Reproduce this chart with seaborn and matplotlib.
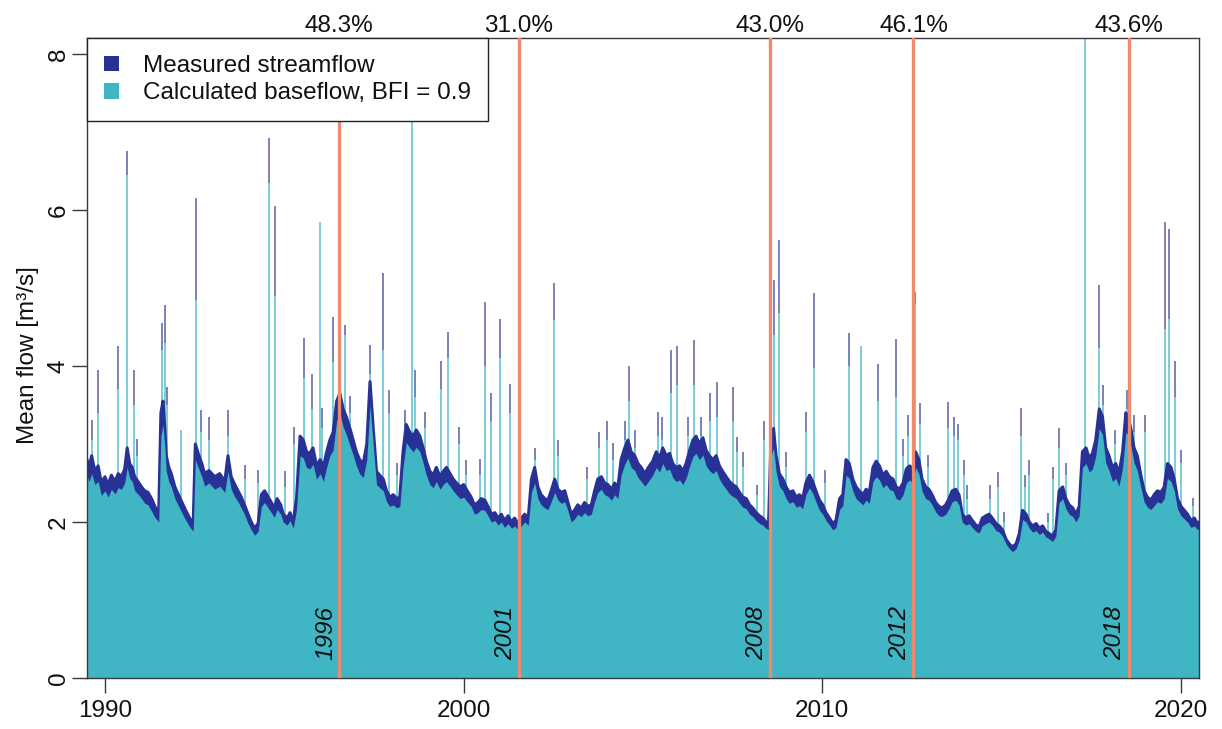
import numpy as np
import pandas as pd
import matplotlib
matplotlib.use("Agg")
import matplotlib.pyplot as plt
from matplotlib.patches import Patch
import seaborn as sns

# ---------------------------------------------------------------------------
# Daily-flow envelope (decimal year, measured streamflow, calculated baseflow)
# ---------------------------------------------------------------------------
flow_year = [
    1989.50, 1989.56, 1989.63, 1989.72, 1989.81, 1989.90, 1990.00, 1990.09,
    1990.18, 1990.28, 1990.37, 1990.46, 1990.55, 1990.62, 1990.69, 1990.76,
    1990.83, 1990.92, 1991.02, 1991.11, 1991.20, 1991.30, 1991.39, 1991.50,
    1991.56, 1991.62, 1991.67, 1991.71, 1991.78, 1991.85, 1991.95, 1992.08,
    1992.22, 1992.36, 1992.46, 1992.52, 1992.60, 1992.70, 1992.78, 1992.90,
    1993.06, 1993.20, 1993.34, 1993.43, 1993.52, 1993.62, 1993.71, 1993.80,
    1993.89, 1993.99, 1994.08, 1994.17, 1994.27, 1994.36, 1994.45, 1994.55,
    1994.64, 1994.72, 1994.80, 1994.90, 1994.97, 1995.08, 1995.16, 1995.25,
    1995.34, 1995.44, 1995.53, 1995.62, 1995.71, 1995.80, 1995.90, 1996.00,
    1996.09, 1996.18, 1996.27, 1996.36, 1996.46, 1996.55, 1996.64, 1996.73,
    1996.83, 1996.92, 1997.01, 1997.10, 1997.20, 1997.30, 1997.39, 1997.48,
    1997.57, 1997.66, 1997.76, 1997.85, 1997.94, 1998.04, 1998.13, 1998.22,
    1998.31, 1998.40, 1998.50, 1998.59, 1998.68, 1998.78, 1998.87, 1998.96,
    1999.06, 1999.15, 1999.24, 1999.34, 1999.43, 1999.52, 1999.62, 1999.71,
    1999.80, 1999.90, 2000.00, 2000.10, 2000.21, 2000.30, 2000.40, 2000.49,
    2000.59, 2000.68, 2000.77, 2000.87, 2000.96, 2001.05, 2001.14, 2001.24,
    2001.33, 2001.42, 2001.52, 2001.61, 2001.70, 2001.80, 2001.89, 2001.98,
    2002.07, 2002.16, 2002.26, 2002.35, 2002.44, 2002.54, 2002.63, 2002.72,
    2002.82, 2002.91, 2003.00, 2003.09, 2003.18, 2003.28, 2003.37, 2003.46,
    2003.56, 2003.65, 2003.74, 2003.84, 2003.93, 2004.02, 2004.12, 2004.21,
    2004.30, 2004.39, 2004.49, 2004.58, 2004.67, 2004.77, 2004.86, 2004.95,
    2005.05, 2005.15, 2005.27, 2005.37, 2005.46, 2005.55, 2005.65, 2005.74,
    2005.83, 2005.92, 2006.02, 2006.11, 2006.20, 2006.29, 2006.39, 2006.48,
    2006.57, 2006.67, 2006.76, 2006.85, 2006.95, 2007.04, 2007.13, 2007.22,
    2007.32, 2007.41, 2007.50, 2007.60, 2007.69, 2007.78, 2007.88, 2007.97,
    2008.06, 2008.15, 2008.25, 2008.34, 2008.43, 2008.50, 2008.57, 2008.64,
    2008.71, 2008.80, 2008.90, 2008.99, 2009.08, 2009.18, 2009.27, 2009.36,
    2009.45, 2009.54, 2009.64, 2009.73, 2009.82, 2009.92, 2010.01, 2010.10,
    2010.20, 2010.29, 2010.38, 2010.48, 2010.57, 2010.66, 2010.75, 2010.85,
    2010.94, 2011.03, 2011.13, 2011.22, 2011.31, 2011.41, 2011.50, 2011.59,
    2011.69, 2011.78, 2011.87, 2011.97, 2012.06, 2012.15, 2012.25, 2012.34,
    2012.43, 2012.52, 2012.60, 2012.69, 2012.78, 2012.88, 2012.97, 2013.06,
    2013.16, 2013.25, 2013.34, 2013.44, 2013.53, 2013.62, 2013.72, 2013.81,
    2013.90, 2014.00, 2014.09, 2014.18, 2014.28, 2014.37, 2014.46, 2014.56,
    2014.65, 2014.74, 2014.84, 2014.93, 2015.02, 2015.12, 2015.21, 2015.30,
    2015.40, 2015.49, 2015.58, 2015.68, 2015.77, 2015.86, 2015.96, 2016.05,
    2016.14, 2016.23, 2016.33, 2016.42, 2016.51, 2016.60, 2016.70, 2016.79,
    2016.88, 2016.98, 2017.07, 2017.16, 2017.25, 2017.35, 2017.44, 2017.53,
    2017.62, 2017.72, 2017.81, 2017.90, 2017.99, 2018.09, 2018.18, 2018.27,
    2018.37, 2018.46, 2018.52, 2018.60, 2018.69, 2018.78, 2018.88, 2018.97,
    2019.06, 2019.16, 2019.25, 2019.34, 2019.44, 2019.53, 2019.62, 2019.72,
    2019.81, 2019.90, 2020.00, 2020.09, 2020.18, 2020.28, 2020.37, 2020.46, 2020.50,
]

streamflow = [
    2.80, 2.70, 2.85, 2.65, 2.72, 2.50, 2.58, 2.48,
    2.60, 2.52, 2.62, 2.58, 2.68, 2.95, 2.75, 2.70,
    2.58, 2.52, 2.45, 2.40, 2.38, 2.30, 2.20, 2.12,
    3.40, 3.55, 3.20, 2.85, 2.70, 2.62, 2.45, 2.32,
    2.18, 2.05, 1.98, 3.00, 2.88, 2.75, 2.62, 2.66,
    2.58, 2.62, 2.52, 2.85, 2.58, 2.48, 2.40, 2.32,
    2.22, 2.10, 2.00, 1.92, 1.98, 2.35, 2.40, 2.32,
    2.25, 2.18, 2.30, 2.22, 2.10, 2.05, 2.12, 2.00,
    2.30, 3.10, 3.05, 2.90, 2.88, 2.95, 2.72, 2.80,
    2.70, 2.90, 3.05, 3.15, 3.55, 3.65, 3.45, 3.35,
    3.20, 3.05, 2.90, 2.80, 2.75, 3.00, 3.80, 3.20,
    2.65, 2.60, 2.55, 2.40, 2.32, 2.35, 2.30, 2.32,
    2.90, 3.25, 3.15, 3.10, 3.18, 3.10, 2.95, 2.78,
    2.65, 2.60, 2.70, 2.58, 2.65, 2.70, 2.62, 2.55,
    2.50, 2.45, 2.48, 2.40, 2.32, 2.22, 2.25, 2.30,
    2.28, 2.20, 2.10, 2.12, 2.05, 2.10, 2.02, 2.08,
    2.00, 2.05, 1.98, 2.05, 2.10, 2.05, 2.55, 2.70,
    2.45, 2.35, 2.30, 2.28, 2.40, 2.55, 2.42, 2.38,
    2.40, 2.25, 2.10, 2.15, 2.22, 2.18, 2.25, 2.20,
    2.22, 2.40, 2.55, 2.58, 2.50, 2.48, 2.42, 2.50,
    2.45, 2.80, 2.95, 3.05, 2.90, 2.85, 2.75, 2.70,
    2.62, 2.70, 2.78, 2.90, 2.82, 2.95, 2.85, 2.88,
    2.75, 2.70, 2.72, 2.65, 2.75, 2.90, 3.05, 3.10,
    3.00, 3.08, 2.92, 2.85, 2.80, 2.85, 2.72, 2.65,
    2.58, 2.52, 2.48, 2.45, 2.38, 2.32, 2.30, 2.22,
    2.18, 2.12, 2.08, 2.05, 2.00, 1.98, 3.10, 3.20,
    2.85, 2.62, 2.55, 2.45, 2.38, 2.40, 2.32, 2.35,
    2.30, 2.50, 2.60, 2.52, 2.40, 2.28, 2.22, 2.12,
    2.05, 1.98, 2.02, 2.30, 2.35, 2.80, 2.75, 2.55,
    2.45, 2.40, 2.35, 2.42, 2.38, 2.70, 2.78, 2.72,
    2.60, 2.65, 2.58, 2.55, 2.45, 2.42, 2.50, 2.68,
    2.72, 2.68, 2.90, 2.80, 2.55, 2.45, 2.42, 2.35,
    2.25, 2.20, 2.18, 2.22, 2.30, 2.40, 2.42, 2.35,
    2.10, 2.05, 2.08, 2.02, 1.96, 1.94, 2.05, 2.08,
    2.10, 2.05, 1.98, 1.95, 1.90, 1.78, 1.72, 1.68,
    1.72, 1.85, 2.15, 2.10, 2.00, 1.95, 1.98, 1.92,
    1.95, 1.88, 1.85, 1.82, 1.90, 2.40, 2.45, 2.30,
    2.22, 2.18, 2.10, 2.20, 2.90, 2.95, 2.82, 2.88,
    3.05, 3.45, 3.35, 2.95, 2.85, 2.70, 2.75, 2.62,
    2.90, 3.40, 3.35, 3.20, 2.95, 2.85, 2.60, 2.40,
    2.32, 2.28, 2.35, 2.40, 2.38, 2.45, 2.75, 2.70,
    2.55, 2.30, 2.20, 2.15, 2.10, 2.02, 2.05, 1.98, 2.00,
]

baseflow = [
    2.60, 2.52, 2.62, 2.48, 2.52, 2.34, 2.40, 2.32,
    2.42, 2.36, 2.44, 2.42, 2.50, 2.70, 2.56, 2.52,
    2.40, 2.36, 2.30, 2.24, 2.22, 2.14, 2.06, 2.00,
    3.10, 3.25, 2.95, 2.65, 2.52, 2.45, 2.30, 2.18,
    2.05, 1.94, 1.88, 2.80, 2.70, 2.58, 2.46, 2.50,
    2.42, 2.46, 2.38, 2.65, 2.42, 2.32, 2.26, 2.18,
    2.10, 1.98, 1.90, 1.83, 1.88, 2.20, 2.25, 2.18,
    2.12, 2.06, 2.16, 2.10, 2.00, 1.96, 2.02, 1.92,
    2.16, 2.85, 2.82, 2.70, 2.68, 2.74, 2.55, 2.62,
    2.52, 2.70, 2.85, 2.92, 3.30, 3.40, 3.22, 3.12,
    2.98, 2.86, 2.72, 2.62, 2.57, 2.80, 3.50, 2.98,
    2.48, 2.44, 2.40, 2.26, 2.20, 2.22, 2.18, 2.20,
    2.70, 3.02, 2.95, 2.90, 2.96, 2.90, 2.76, 2.60,
    2.48, 2.44, 2.52, 2.42, 2.48, 2.52, 2.46, 2.40,
    2.35, 2.30, 2.32, 2.26, 2.20, 2.10, 2.12, 2.16,
    2.15, 2.08, 2.00, 2.02, 1.96, 2.00, 1.93, 1.98,
    1.92, 1.95, 1.90, 1.95, 2.00, 1.96, 2.38, 2.50,
    2.30, 2.22, 2.18, 2.16, 2.26, 2.38, 2.28, 2.24,
    2.26, 2.14, 2.00, 2.04, 2.10, 2.07, 2.12, 2.08,
    2.10, 2.26, 2.38, 2.42, 2.35, 2.33, 2.28, 2.35,
    2.30, 2.60, 2.74, 2.82, 2.70, 2.66, 2.57, 2.52,
    2.46, 2.52, 2.60, 2.70, 2.64, 2.75, 2.66, 2.68,
    2.57, 2.52, 2.54, 2.48, 2.56, 2.70, 2.84, 2.88,
    2.80, 2.86, 2.72, 2.66, 2.62, 2.66, 2.55, 2.48,
    2.42, 2.36, 2.33, 2.30, 2.24, 2.19, 2.17, 2.10,
    2.07, 2.02, 1.98, 1.96, 1.92, 1.90, 2.85, 2.95,
    2.65, 2.46, 2.40, 2.30, 2.24, 2.26, 2.19, 2.21,
    2.17, 2.35, 2.44, 2.37, 2.26, 2.15, 2.10, 2.02,
    1.96, 1.90, 1.93, 2.16, 2.21, 2.60, 2.56, 2.40,
    2.30, 2.26, 2.22, 2.28, 2.24, 2.52, 2.58, 2.54,
    2.44, 2.48, 2.42, 2.40, 2.30, 2.28, 2.35, 2.50,
    2.54, 2.50, 2.70, 2.62, 2.40, 2.30, 2.28, 2.22,
    2.13, 2.08, 2.07, 2.10, 2.17, 2.26, 2.28, 2.22,
    2.00, 1.96, 1.98, 1.93, 1.88, 1.86, 1.95, 1.98,
    2.00, 1.96, 1.89, 1.87, 1.82, 1.72, 1.66, 1.62,
    1.66, 1.77, 2.03, 2.00, 1.92, 1.87, 1.89, 1.84,
    1.87, 1.81, 1.78, 1.75, 1.82, 2.25, 2.30, 2.17,
    2.10, 2.07, 2.00, 2.08, 2.70, 2.75, 2.64, 2.68,
    2.84, 3.20, 3.12, 2.76, 2.66, 2.52, 2.56, 2.46,
    2.70, 3.15, 3.12, 2.98, 2.76, 2.66, 2.44, 2.26,
    2.19, 2.16, 2.21, 2.26, 2.24, 2.30, 2.56, 2.52,
    2.40, 2.17, 2.08, 2.04, 2.00, 1.93, 1.95, 1.90, 1.92,
]

# Single-day flood peaks (decimal year, streamflow peak, baseflow peak)
peak_year = [
    1989.64, 1989.81, 1990.37, 1990.62, 1990.80, 1990.90, 1991.60, 1991.67,
    1991.72, 1992.13, 1992.55, 1992.68, 1992.90, 1993.43, 1993.90, 1994.27,
    1994.58, 1994.75, 1995.02, 1995.27, 1995.56, 1995.77, 1995.99, 1996.06,
    1996.36, 1996.69, 1996.83, 1997.39, 1997.76, 1997.92, 1998.13, 1998.36,
    1998.55, 1998.64, 1998.92, 1999.38, 1999.55, 1999.88, 2000.07, 2000.45,
    2000.59, 2000.75, 2001.00, 2001.28, 2001.98, 2002.52, 2002.63, 2003.45,
    2003.76, 2004.00, 2004.16, 2004.50, 2004.60, 2004.79, 2005.41, 2005.53,
    2005.78, 2005.95, 2006.25, 2006.41, 2006.62, 2006.87, 2007.05, 2007.52,
    2007.62, 2007.80, 2008.17, 2008.36, 2008.64, 2008.78, 2008.99, 2009.54,
    2009.77, 2010.08, 2010.73, 2011.08, 2011.55, 2012.04, 2012.26, 2012.40,
    2012.59, 2012.72, 2012.95, 2013.50, 2013.68, 2013.77, 2013.94, 2014.03,
    2014.66, 2014.91, 2015.05, 2015.55, 2015.65, 2015.75, 2016.30, 2016.43,
    2016.61, 2016.79, 2017.18, 2017.33, 2017.70, 2017.81, 2018.16, 2018.48,
    2018.69, 2018.99, 2019.56, 2019.65, 2019.82, 2020.00, 2020.32,
]

peak_streamflow = [
    3.31, 3.95, 4.25, 6.75, 3.95, 3.07, 4.55, 4.78,
    3.73, 3.18, 6.15, 3.43, 3.35, 3.43, 2.73, 2.67,
    6.92, 6.05, 2.65, 3.22, 4.36, 3.90, 5.85, 3.46,
    4.63, 4.52, 3.61, 4.27, 5.19, 3.69, 2.75, 3.43,
    8.50, 3.95, 3.41, 4.06, 4.44, 3.22, 2.79, 2.81,
    4.82, 3.65, 4.60, 3.77, 2.95, 5.06, 3.05, 2.71,
    3.16, 3.29, 3.01, 3.29, 4.00, 3.18, 3.41, 3.35,
    4.20, 4.25, 3.35, 4.33, 3.35, 3.65, 3.80, 3.73,
    3.09, 2.90, 2.47, 3.29, 5.10, 5.61, 2.90, 3.41,
    4.93, 2.67, 4.42, 4.25, 4.03, 4.35, 3.07, 3.37,
    4.95, 3.52, 2.86, 3.54, 3.35, 3.26, 2.79, 2.47,
    2.47, 2.64, 2.13, 3.46, 2.60, 2.79, 2.11, 2.71,
    3.20, 2.75, 2.41, 8.50, 5.04, 3.76, 3.18, 3.69,
    3.37, 3.37, 5.84, 5.75, 4.06, 2.92, 2.31,
]

peak_baseflow = [
    3.05, 3.40, 3.70, 6.45, 3.50, 2.85, 4.20, 4.30,
    3.50, 3.18, 4.85, 3.15, 3.05, 3.10, 2.55, 2.50,
    6.35, 4.90, 2.45, 3.00, 3.85, 3.45, 5.85, 3.20,
    4.05, 4.40, 3.40, 3.90, 4.20, 3.40, 2.60, 3.20,
    8.50, 3.60, 3.20, 3.70, 4.10, 3.00, 2.60, 2.60,
    4.00, 3.30, 4.10, 3.40, 2.80, 4.59, 2.85, 2.55,
    2.95, 3.05, 2.80, 3.05, 3.55, 2.95, 3.10, 3.05,
    3.65, 3.75, 3.10, 3.75, 3.10, 3.30, 3.35, 3.30,
    2.90, 2.70, 2.35, 3.05, 4.40, 4.68, 2.70, 3.15,
    3.98, 2.50, 4.00, 4.25, 3.55, 3.60, 2.85, 3.10,
    4.80, 3.25, 2.70, 3.20, 3.10, 3.05, 2.60, 2.30,
    2.30, 2.45, 2.00, 3.10, 2.45, 2.60, 2.00, 2.55,
    2.95, 2.60, 2.30, 8.50, 4.23, 3.50, 3.00, 3.45,
    3.15, 3.15, 4.48, 4.60, 3.60, 2.75, 2.20,
]

# Recharge events marked on the record
event_year = [1996.53, 2001.54, 2008.54, 2012.54, 2018.54]
event_label = ["1996", "2001", "2008", "2012", "2018"]
event_share = ["48.3%", "31.0%", "43.0%", "46.1%", "43.6%"]

x_ticks = [1990, 2000, 2010, 2020]
y_ticks = [0, 2, 4, 6, 8]

assert len(flow_year) == len(streamflow) == len(baseflow)
assert len(peak_year) == len(peak_streamflow) == len(peak_baseflow)

flow = pd.DataFrame({"year": flow_year, "stream": streamflow, "base": baseflow})
peaks = pd.DataFrame({"year": peak_year, "stream": peak_streamflow,
                      "base": peak_baseflow})

# ---------------------------------------------------------------------------
# Style
# ---------------------------------------------------------------------------
sns.set_style("ticks")
plt.rcParams["font.family"] = ["Liberation Sans", "DejaVu Sans"]
plt.rcParams["font.size"] = 17.5

NAVY = "#283296"
TEAL = "#40b5c4"
PEAK_STREAM = "#7c81b7"
PEAK_BASE = "#7dd1d8"
EVENT = "#ef8a6c"
FRAME = "#3a3a3a"
INK = "#111111"

fig = plt.figure(figsize=(12.22, 7.29), dpi=100)
ax = fig.add_axes([87 / 1222, 51 / 729, 1112 / 1222, 640 / 729])

# flood peaks first, so the filled envelope covers their lower parts
ax.vlines(peaks["year"], 0, peaks["stream"], color=PEAK_STREAM, lw=1.4, zorder=1)
ax.vlines(peaks["year"], 0, peaks["base"], color=PEAK_BASE, lw=1.4, zorder=1.1)

# measured streamflow and baseflow envelopes
ax.fill_between(flow["year"], 0, flow["stream"], color=NAVY, lw=0, zorder=2)
sns.lineplot(data=flow, x="year", y="stream", color=NAVY, lw=2.2, ax=ax, zorder=2.1)
ax.fill_between(flow["year"], 0, flow["base"], color=TEAL, lw=0, zorder=2.2)

# event markers
for yr, lbl, share in zip(event_year, event_label, event_share):
    ax.axvline(yr, color=EVENT, lw=2.4, zorder=3)
    ax.annotate(share, xy=(yr, 1.0), xycoords=("data", "axes fraction"),
                xytext=(0, 1), textcoords="offset points",
                ha="center", va="bottom", fontsize=17.5, color=INK)
    ax.annotate(lbl, xy=(yr, 0.23), xytext=(-1.5, 0), textcoords="offset points",
                rotation=90, ha="right", va="bottom", fontsize=17.5,
                fontstyle="italic", color=INK, zorder=4)

ax.set_xlim(1989.5, 2020.5)
ax.set_ylim(0, 8.205)
ax.set_xticks(x_ticks)
ax.set_xticklabels([str(t) for t in x_ticks])
ax.set_yticks(y_ticks)
ax.set_yticklabels([str(t) for t in y_ticks])
ax.tick_params(axis="both", direction="out", length=10.5, width=1.0,
               color=FRAME, labelsize=17.5, labelcolor=INK)
ax.tick_params(axis="x", pad=5)
ax.tick_params(axis="y", pad=2, labelrotation=90)
for lab in ax.get_yticklabels():
    lab.set_verticalalignment("center")

for side in ["left", "right", "top", "bottom"]:
    ax.spines[side].set_visible(True)
    ax.spines[side].set_color(FRAME)
    ax.spines[side].set_linewidth(1.0)

ax.set_xlabel("")
ax.set_ylabel("Mean flow [m³/s]", fontsize=17.5, color=INK)
ax.yaxis.set_label_coords(-0.043, 0.505)

handles = [Patch(facecolor=NAVY, edgecolor="none", label="Measured streamflow"),
           Patch(facecolor=TEAL, edgecolor="none",
                 label="Calculated baseflow, BFI = 0.9")]
leg = ax.legend(handles=handles, loc="upper left", bbox_to_anchor=(0, 1),
                borderaxespad=0, frameon=True, fancybox=False,
                edgecolor="#222222", facecolor="white", framealpha=1,
                fontsize=17.5, handlelength=0.6, handleheight=0.6,
                handletextpad=1.0, borderpad=0.7, labelspacing=0.22,
                labelcolor=INK)
leg.get_frame().set_linewidth(1.0)
leg.set_zorder(10)

fig.savefig("out.png", dpi=100)
